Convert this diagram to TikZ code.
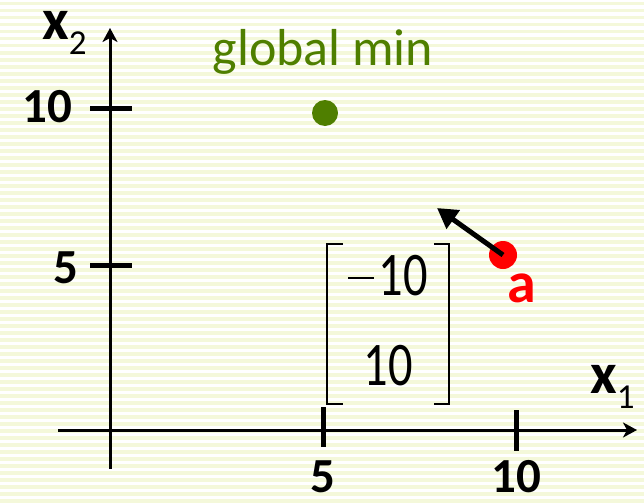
\documentclass[tikz,border=0pt]{standalone}
\usepackage{fontspec}
\setmainfont{Carlito}
\newfontfamily\matfont[FakeStretch=0.78]{Carlito}
\usetikzlibrary{arrows.meta}
\definecolor{mingreen}{HTML}{4F7F00}
\definecolor{ptred}{HTML}{FF0000}
\definecolor{stripe}{HTML}{F4F8DA}
\newcommand{\sz}[1]{\fontsize{#1}{#1}\selectfont}
\newcommand{\negsign}{\raisebox{16pt}{\rule{26pt}{2pt}}\hspace{4pt}}

\begin{document}
\begin{tikzpicture}[
  x=1pt, y=-1pt,
  axis/.style={line width=3pt, -{Stealth[length=14pt,width=15pt,inset=4pt]}},
  tick/.style={line width=5pt},
  ticklbl/.style={inner sep=0pt, anchor=base, font=\sz{49}\bfseries},
  axlbl/.style={inner sep=0pt, anchor=base west, font=\sz{58}},
  brk/.style={line width=2pt},
  entry/.style={inner sep=0pt, anchor=base, font=\matfont\sz{62}},
  dot/.style={circle, inner sep=0pt, minimum size=#1},
  grad/.style={line width=5pt, -{Triangle[length=20pt,width=22pt]}}
]
\useasboundingbox (0,0) rectangle (644,503);
\fill[white] (0,0) rectangle (644,503);
\foreach \s in {2,9,...,503}
  \fill[stripe] (0,\s) rectangle (644,\s+3.5);

\coordinate (xstart) at (58,430);
\coordinate (xend) at (637,430);
\coordinate (ystart) at (110,469);
\coordinate (yend) at (110,28);
\draw[axis] (xstart) -- (xend);
\draw[axis] (ystart) -- (yend);

\draw[tick] (323,407) -- (323,447);
\draw[tick] (516,410) -- (516,451);
\draw[tick] (90,108) -- (132,108);
\draw[tick] (90,265) -- (132,265);

\node[ticklbl] (x5) at (323,492) {5};
\node[ticklbl] (x10) at (516,492) {10};
\node[ticklbl] (y10) at (47,122) {10};
\node[ticklbl] (y5) at (66,283) {5};

\node[axlbl] (xtwo) at (42,40) {\textbf{x}\raisebox{-15pt}{\sz{35}2}};
\node[axlbl] (xone) at (590,393) {\textbf{x}\raisebox{-15pt}{\sz{35}1}};

\node[dot=26pt, fill=mingreen] (gmin) at (325,113) {};
\node[inner sep=0pt, anchor=base, text=mingreen, font=\sz{52}] (gminlbl) at (323,65) {global min};

\node[dot=28pt, fill=ptred] (a) at (503,255) {};
\node[inner sep=0pt, anchor=base west, text=ptred, font=\sz{58}\bfseries] (albl) at (507,302) {a};
\coordinate (dir) at (437,208);
\draw[grad] (a.center) -- (dir);

\draw[brk] (343,244) -| (327,404) -- (343,404);
\draw[brk] (434,244) -| (449,404) -- (434,404);
\node[entry] (top) at (388,295) {\negsign 10};
\node[entry] (bot) at (388,385) {10};
\end{tikzpicture}
\end{document}
